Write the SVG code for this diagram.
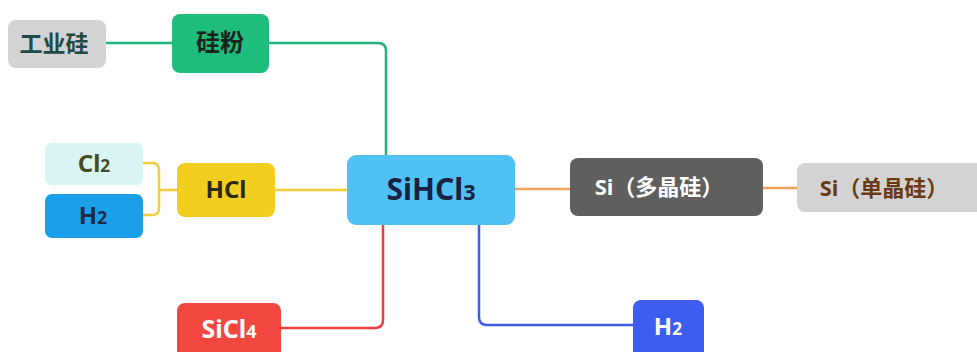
<svg xmlns="http://www.w3.org/2000/svg" width="977" height="352" viewBox="0 0 977 352">
<style>
text{font-family:"Noto Sans","Noto Sans CJK SC",sans-serif;font-weight:700;text-anchor:middle}
.c{fill:none;stroke-width:2.5;stroke-linejoin:round}
.sub{font-size:0.72em}
</style>
<rect width="977" height="352" fill="#ffffff"/>
<g id="connectors">
<path class="c" stroke="#22b27a" d="M106,43 H172"/>
<path class="c" stroke="#22b27a" d="M269,43 H378 Q386,43 386,51 V155"/>
<path class="c" stroke="#f2cf3a" d="M143,163 H152 Q159,163 159,170 V208 Q159,215 152,215 H143 M159,190 H177"/>
<path class="c" stroke="#f2cf3a" d="M275,190 H347"/>
<path class="c" stroke="#f0a45a" d="M515,189 H570"/>
<path class="c" stroke="#f0a45a" d="M763,188 H797"/>
<path class="c" stroke="#e84040" d="M383,225 V320 Q383,328 375,328 H280"/>
<path class="c" stroke="#3d5de8" d="M479,225 V317 Q479,325 487,325 H633"/>
</g>
<g id="n-gongyegui"><rect x="8" y="20" width="98" height="48" rx="8" fill="#d3d3d3"/><text x="54" y="52" font-size="23" fill="#1f4a45">工业硅</text></g>
<g id="n-guifen"><rect x="172" y="14" width="97" height="59" rx="8" fill="#1fbd7b"/><text x="220" y="51" font-size="24" fill="#15251e">硅粉</text></g>
<g id="n-cl2"><rect x="45" y="143" width="98" height="42" rx="7" fill="#d8f5f3"/><text x="94" y="172" font-size="24" fill="#4a4a22">Cl<tspan class="sub">2</tspan></text></g>
<g id="n-h2a"><rect x="45" y="194" width="98" height="44" rx="7" fill="#1a9fe8"/><text x="93" y="224" font-size="24" fill="#1b2b42">H<tspan class="sub">2</tspan></text></g>
<g id="n-hcl"><rect x="177" y="163" width="98" height="54" rx="8" fill="#f2cf1e"/><text x="226" y="198" font-size="24" fill="#2a2a12">HCl</text></g>
<g id="n-sihcl3"><rect x="347" y="155" width="168" height="70" rx="9" fill="#4fc1f5"/><text x="431" y="200" font-size="30" fill="#1a2142">SiHCl<tspan class="sub">3</tspan></text></g>
<g id="n-poly"><rect x="570" y="158" width="193" height="58" rx="8" fill="#5f5f5f"/><text x="659" y="195" font-size="22" fill="#ffffff">Si（多晶硅）</text></g>
<g id="n-mono"><rect x="797" y="163" width="190" height="49" rx="8" fill="#d3d3d3"/><text x="884" y="196" font-size="22" fill="#6a3a12">Si（单晶硅）</text></g>
<g id="n-sicl4"><rect x="177" y="303" width="104" height="58" rx="8" fill="#f2473f"/><text x="229" y="338" font-size="25" fill="#ffffff">SiCl<tspan class="sub">4</tspan></text></g>
<g id="n-h2b"><rect x="633" y="300" width="71" height="60" rx="8" fill="#3d5ef0"/><text x="668" y="335" font-size="24" fill="#ffffff">H<tspan class="sub">2</tspan></text></g>
</svg>
